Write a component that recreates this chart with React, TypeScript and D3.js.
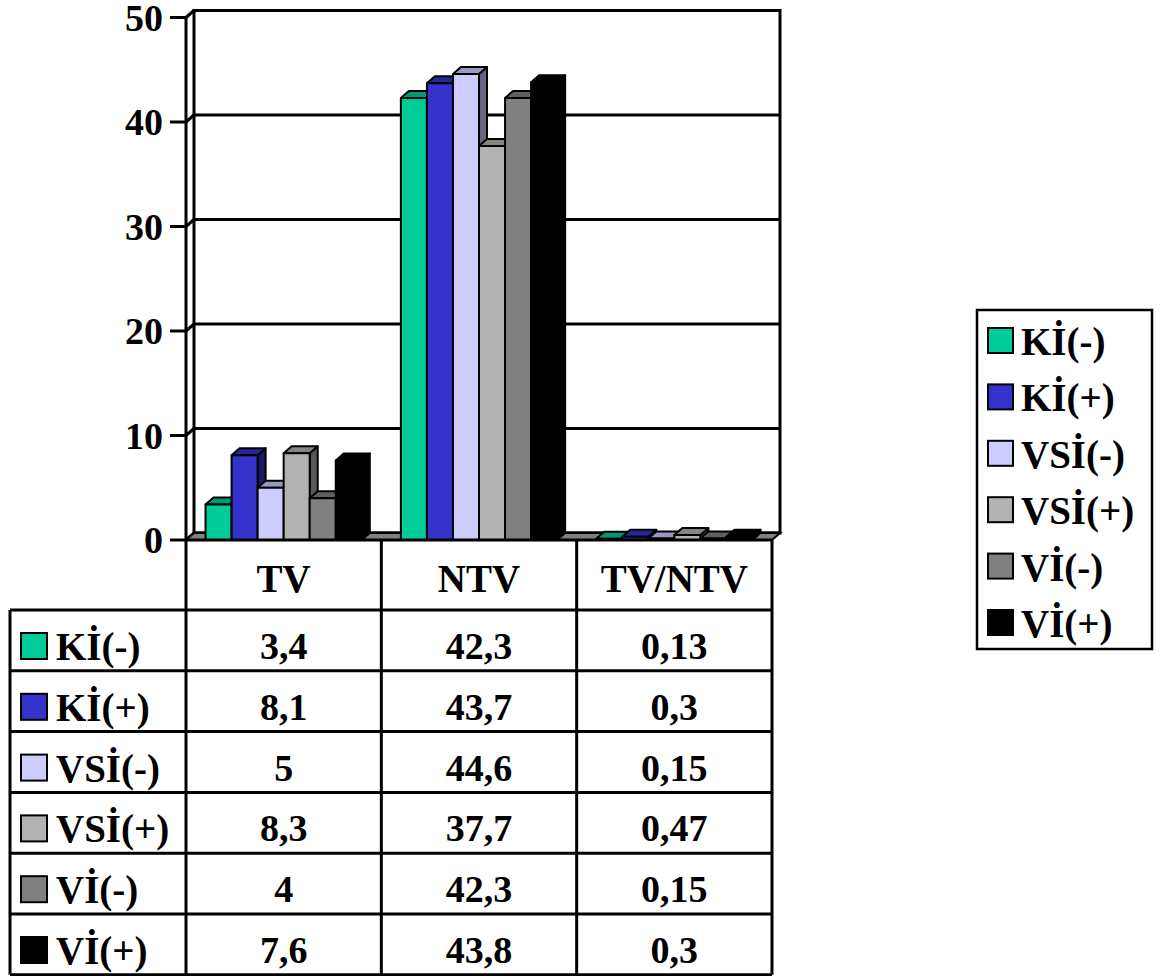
import React from "react";
import * as d3 from "d3";

const categories = ["TV", "NTV", "TV/NTV"];
const seriesNames = ["Kİ(-)", "Kİ(+)", "VSİ(-)", "VSİ(+)", "Vİ(-)", "Vİ(+)"];
const kiMinus = [3.4, 42.3, 0.13];
const kiPlus = [8.1, 43.7, 0.3];
const vsiMinus = [5, 44.6, 0.15];
const vsiPlus = [8.3, 37.7, 0.47];
const viMinus = [4, 42.3, 0.15];
const viPlus = [7.6, 43.8, 0.3];
const seriesValues = [kiMinus, kiPlus, vsiMinus, vsiPlus, viMinus, viPlus];
const seriesColors = ["#00CC99", "#3333CC", "#CCCCFF", "#B2B2B2", "#808080", "#000000"];
const yTicks = [0, 10, 20, 30, 40, 50];

const FONT = "'Liberation Serif', 'Times New Roman', serif";

const shade = (c: string, k: number) => {
  const r = d3.rgb(c);
  return d3.rgb(r.r * k, r.g * k, r.b * k).formatHex();
};
const fmt = (v: number) => String(v).replace(".", ",");

export default function App() {
  const left = 186;
  const right = 772;
  const dx = 8;
  const dy = 7;
  const y = d3.scaleLinear().domain([0, 50]).range([540, 17.5]);
  const x = d3.scaleBand<string>().domain(categories).range([left, right]);
  const bw = x.bandwidth();
  const xs = d3.scaleBand<string>().domain(seriesNames).range([bw * 0.1, bw * 0.9]);
  const w = xs.bandwidth();
  const base = y(0);

  const tableTop = 540;
  const headerBottom = 610;
  const rowH = 60.8;
  const tableLeft = 10;
  const tableBottom = headerBottom + rowH * seriesNames.length;

  const bars: React.ReactNode[] = [];
  categories.forEach((cat, ci) => {
    seriesNames.forEach((s, si) => {
      const v = seriesValues[si][ci];
      const x0 = (x(cat) as number) + (xs(s) as number);
      const yt = y(v);
      const col = seriesColors[si];
      const top = `${x0},${yt} ${x0 + dx},${yt - dy} ${x0 + w + dx},${yt - dy} ${x0 + w},${yt}`;
      const side = `${x0 + w},${yt} ${x0 + w + dx},${yt - dy} ${x0 + w + dx},${base - dy} ${x0 + w},${base}`;
      bars.push(
        <g key={`${ci}-${si}`} stroke="#000" strokeWidth={2} strokeLinejoin="round">
          <polygon points={side} fill={shade(col, 0.5)} />
          <polygon points={top} fill={shade(col, 0.75)} />
          <rect x={x0} y={yt} width={w} height={base - yt} fill={col} />
        </g>
      );
    });
  });

  return (
    <svg
      width={1164}
      height={976}
      style={{ position: "absolute", left: 0, top: 0, background: "#fff" }}
      fontFamily={FONT}
      fontWeight="bold"
    >
      {/* back wall */}
      <rect x={left + dx} y={y(50) - dy} width={right - left} height={base - y(50)} fill="#fff" stroke="#000" strokeWidth={3} />
      {yTicks.map((t) => (
        <g key={t} stroke="#000" strokeWidth={3}>
          <line x1={left + dx} x2={right + dx} y1={y(t) - dy} y2={y(t) - dy} />
          <line x1={left} x2={left + dx} y1={y(t)} y2={y(t) - dy} />
          <line x1={170} x2={left} y1={y(t)} y2={y(t)} />
        </g>
      ))}
      <line x1={left} x2={left} y1={y(50)} y2={tableBottom} stroke="#000" strokeWidth={3} />
      {/* floor */}
      <polygon
        points={`${left},${base} ${right},${base} ${right + dx},${base - dy} ${left + dx},${base - dy}`}
        fill="#808080"
        stroke="#000"
        strokeWidth={2}
      />
      {bars}
      <line x1={left} x2={right} y1={base} y2={base} stroke="#000" strokeWidth={3} />
      {/* y labels */}
      {yTicks.map((t) => (
        <text key={t} x={163} y={y(t) + 13} textAnchor="end" fontSize={38}>
          {t}
        </text>
      ))}
      {/* table */}
      <g stroke="#000" strokeWidth={3}>
        {categories.map((c) => (
          <line key={c} x1={(x(c) as number) + bw} x2={(x(c) as number) + bw} y1={tableTop} y2={tableBottom} />
        ))}
        <line x1={tableLeft} x2={tableLeft} y1={headerBottom} y2={tableBottom} />
        {seriesNames.map((s, i) => (
          <line key={s} x1={tableLeft} x2={right} y1={headerBottom + rowH * i} y2={headerBottom + rowH * i} />
        ))}
        <line x1={tableLeft} x2={right} y1={tableBottom} y2={tableBottom} />
      </g>
      {categories.map((c) => (
        <text key={c} x={(x(c) as number) + bw / 2} y={592} textAnchor="middle" fontSize={39}>
          {c}
        </text>
      ))}
      {seriesNames.map((s, i) => {
        const rt = headerBottom + rowH * i;
        return (
          <g key={s}>
            <rect x={21} y={rt + 23} width={26} height={26} fill={seriesColors[i]} stroke="#000" strokeWidth={2} />
            <text x={56} y={rt + 50} fontSize={39}>
              {s}
            </text>
            {categories.map((c, ci) => (
              <text key={c} x={(x(c) as number) + bw / 2} y={rt + 49} textAnchor="middle" fontSize={38}>
                {fmt(seriesValues[i][ci])}
              </text>
            ))}
          </g>
        );
      })}
      {/* legend */}
      <rect x={977} y={310} width={175} height={339} fill="#fff" stroke="#000" strokeWidth={2.5} />
      {seriesNames.map((s, i) => {
        const ly = 328 + i * 56.4;
        return (
          <g key={s}>
            <rect x={988} y={ly} width={25} height={25} fill={seriesColors[i]} stroke="#000" strokeWidth={2} />
            <text x={1021} y={ly + 27} fontSize={39}>
              {s}
            </text>
          </g>
        );
      })}
    </svg>
  );
}
